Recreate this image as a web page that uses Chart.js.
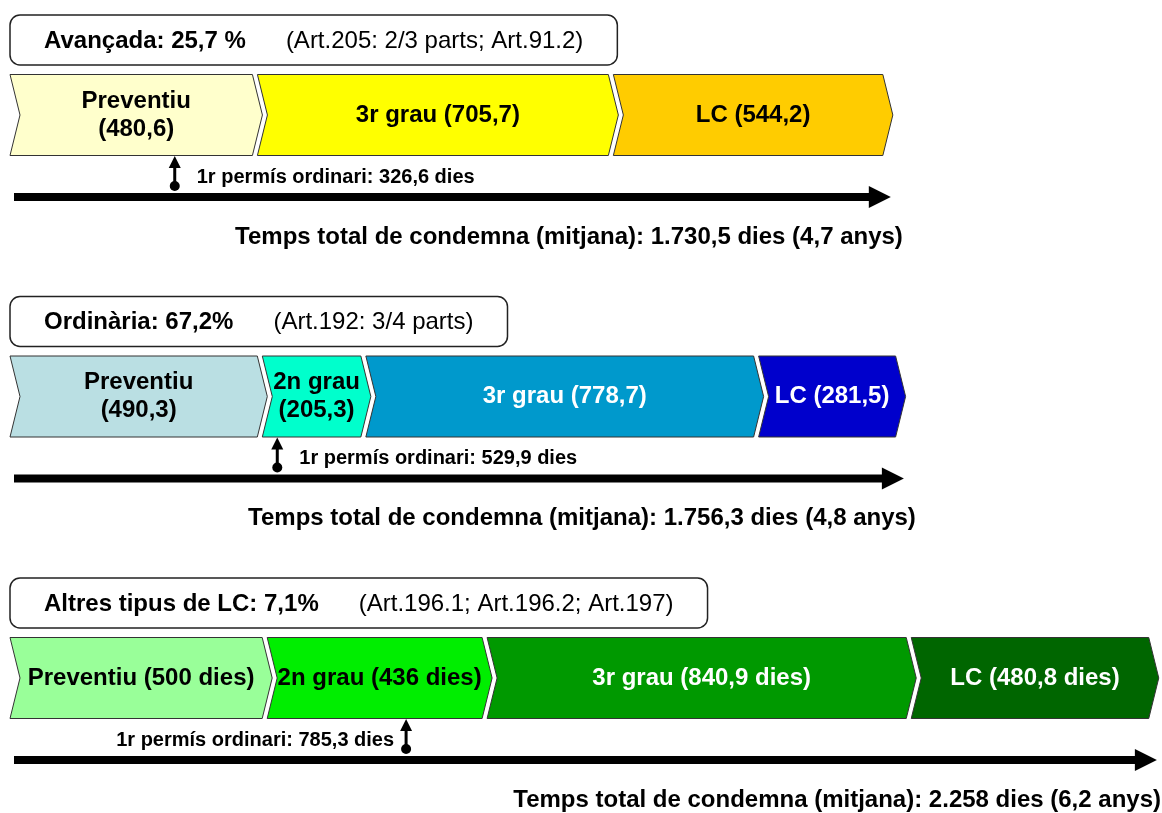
<!DOCTYPE html>
<html lang="ca">
<head>
    <meta charset="UTF-8">
    <title>Temps de condemna segons el tipus de llibertat condicional</title>
    <script src="https://cdn.jsdelivr.net/npm/chart.js"></script>
    <style>
        html, body { margin: 0; padding: 0; background: #fff; }
        #contenidor { width: 1162px; height: 813px; position: relative; }
    </style>
</head>
<body>
    <div id="contenidor"><canvas id="grafic"></canvas></div>

    <script>
        // Dades (dies de mitjana a cada etapa)
        const files = ['Avançada', 'Ordinària', 'Altres tipus de LC'];
        const percentatges = ['25,7 %', '67,2%', '7,1%'];
        const articles = ['(Art.205: 2/3 parts; Art.91.2)', '(Art.192: 3/4 parts)', '(Art.196.1; Art.196.2; Art.197)'];

        const diesPreventiu = [480.6, 490.3, 500];
        const diesSegonGrau = [null, 205.3, 436];
        const diesTercerGrau = [705.7, 778.7, 840.9];
        const diesLC = [544.2, 281.5, 480.8];

        const etiquetesPreventiu = ['Preventiu\n(480,6)', 'Preventiu\n(490,3)', 'Preventiu (500 dies)'];
        const etiquetesSegonGrau = ['', '2n grau\n(205,3)', '2n grau (436 dies)'];
        const etiquetesTercerGrau = ['3r grau (705,7)', '3r grau (778,7)', '3r grau (840,9 dies)'];
        const etiquetesLC = ['LC (544,2)', 'LC (281,5)', 'LC (480,8 dies)'];

        const diesPermis = [326.6, 529.9, 785.3];
        const textPermis = ['1r permís ordinari: 326,6 dies', '1r permís ordinari: 529,9 dies', '1r permís ordinari: 785,3 dies'];

        const diesTotal = [1730.5, 1756.3, 2258];
        const textTotal = [
            'Temps total de condemna (mitjana): 1.730,5 dies (4,7 anys)',
            'Temps total de condemna (mitjana): 1.756,3 dies (4,8 anys)',
            'Temps total de condemna (mitjana): 2.258 dies (6,2 anys)'
        ];

        // Colors de cada etapa per fila
        const colorsPreventiu = ['#FFFFCC', '#BADFE3', '#99FF99'];
        const colorsSegonGrau = ['#FFFFFF', '#00FFCC', '#00EE00'];
        const colorsTercerGrau = ['#FFFF00', '#0099CC', '#009900'];
        const colorsLC = ['#FFCC00', '#0000CC', '#006600'];
        const colorsTextFosc = ['#000', '#000', '#000'];
        const colorsTextClar = ['#000', '#fff', '#fff'];

        const FONT = '"Liberation Sans", Arial, Helvetica, sans-serif';
        const PUNTA = 10;      // profunditat de la punta del xebró
        const SEPARACIO = 5;   // espai entre xebrons

        function camiXebro(ctx, esquerra, dreta, dalt, baix) {
            const mig = (dalt + baix) / 2;
            ctx.beginPath();
            ctx.moveTo(esquerra, dalt);
            ctx.lineTo(dreta, dalt);
            ctx.lineTo(dreta + PUNTA, mig);
            ctx.lineTo(dreta, baix);
            ctx.lineTo(esquerra, baix);
            ctx.lineTo(esquerra + PUNTA, mig);
            ctx.closePath();
        }

        function rectArrodonit(ctx, x, y, w, h, r) {
            ctx.beginPath();
            ctx.moveTo(x + r, y);
            ctx.arcTo(x + w, y, x + w, y + h, r);
            ctx.arcTo(x + w, y + h, x, y + h, r);
            ctx.arcTo(x, y + h, x, y, r);
            ctx.arcTo(x, y, x + w, y, r);
            ctx.closePath();
        }

        // Dibuixa les barres com a xebrons en lloc de rectangles
        const pluginXebrons = {
            id: 'xebrons',
            beforeDatasetsDraw(chart) {
                const ctx = chart.ctx;
                const x0 = chart.scales.x.getPixelForValue(0);
                ctx.save();
                chart.data.datasets.forEach((ds, i) => {
                    const meta = chart.getDatasetMeta(i);
                    meta.data.forEach((el, j) => {
                        if (!ds.data[j]) return;
                        const p = el.getProps(['x', 'y', 'base', 'height'], true);
                        const inici = Math.min(p.base, p.x);
                        const fi = Math.max(p.base, p.x);
                        const esquerra = Math.abs(inici - x0) < 1 ? inici : inici + SEPARACIO;
                        const dalt = p.y - p.height / 2;
                        const baix = p.y + p.height / 2;
                        camiXebro(ctx, esquerra, fi, dalt, baix);
                        ctx.fillStyle = el.options.backgroundColor;
                        ctx.fill();
                        ctx.lineWidth = 1;
                        ctx.strokeStyle = '#333';
                        ctx.stroke();

                        const linies = ds.etiquetes[j].split('\n');
                        const cx = (esquerra + fi + PUNTA) / 2;
                        ctx.fillStyle = ds.colorsText[j];
                        ctx.font = 'bold 24px ' + FONT;
                        ctx.textAlign = 'center';
                        ctx.textBaseline = 'middle';
                        linies.forEach((t, k) => {
                            ctx.fillText(t, cx, p.y + (k - (linies.length - 1) / 2) * 28);
                        });
                    });
                });
                ctx.restore();
                return false;
            },
            afterDraw(chart) {
                const ctx = chart.ctx;
                const x = chart.scales.x;
                const y = chart.scales.y;
                const area = chart.chartArea;
                ctx.save();
                files.forEach((nom, i) => {
                    const cy = y.getPixelForValue(i);

                    // Caixa del títol
                    const titol = nom + ': ' + percentatges[i];
                    ctx.font = 'bold 24px ' + FONT;
                    const wTitol = ctx.measureText(titol).width;
                    ctx.font = '24px ' + FONT;
                    const wArt = ctx.measureText(articles[i]).width;
                    const cLeft = area.left;
                    const cTop = cy - 100;
                    const cW = 34 + wTitol + 40 + wArt + 34;
                    rectArrodonit(ctx, cLeft, cTop, cW, 50, 10);
                    ctx.fillStyle = '#fff';
                    ctx.fill();
                    ctx.lineWidth = 1.5;
                    ctx.strokeStyle = '#222';
                    ctx.stroke();
                    ctx.fillStyle = '#000';
                    ctx.textBaseline = 'middle';
                    ctx.textAlign = 'left';
                    ctx.font = 'bold 24px ' + FONT;
                    ctx.fillText(titol, cLeft + 34, cTop + 26);
                    ctx.font = '24px ' + FONT;
                    ctx.fillText(articles[i], cLeft + 34 + wTitol + 40, cTop + 26);

                    // Marca del 1r permís
                    const px = x.getPixelForValue(diesPermis[i]);
                    const baixBarra = cy + 41;
                    ctx.fillStyle = '#000';
                    ctx.strokeStyle = '#000';
                    ctx.beginPath();
                    ctx.moveTo(px, baixBarra);
                    ctx.lineTo(px - 6, baixBarra + 12);
                    ctx.lineTo(px + 6, baixBarra + 12);
                    ctx.closePath();
                    ctx.fill();
                    ctx.lineWidth = 3;
                    ctx.beginPath();
                    ctx.moveTo(px, baixBarra + 8);
                    ctx.lineTo(px, cy + 71);
                    ctx.stroke();
                    ctx.beginPath();
                    ctx.arc(px, cy + 71, 5, 0, Math.PI * 2);
                    ctx.fill();

                    ctx.font = 'bold 20px ' + FONT;
                    const wPermis = ctx.measureText(textPermis[i]).width;
                    if (px - wPermis - 12 > 0) {
                        ctx.textAlign = 'right';
                        ctx.fillText(textPermis[i], px - 12, cy + 62);
                    } else {
                        ctx.textAlign = 'left';
                        ctx.fillText(textPermis[i], px + 22, cy + 62);
                    }

                    // Fletxa del temps total
                    const ya = cy + 82;
                    const punta = Math.min(x.getPixelForValue(diesTotal[i]) + 8, chart.width - 2);
                    ctx.lineWidth = 8;
                    ctx.beginPath();
                    ctx.moveTo(x.getPixelForValue(0) + 4, ya);
                    ctx.lineTo(punta - 20, ya);
                    ctx.stroke();
                    ctx.beginPath();
                    ctx.moveTo(punta - 22, ya - 11);
                    ctx.lineTo(punta, ya);
                    ctx.lineTo(punta - 22, ya + 11);
                    ctx.closePath();
                    ctx.fill();

                    ctx.font = 'bold 24px ' + FONT;
                    ctx.textAlign = 'right';
                    ctx.fillText(textTotal[i], Math.min(punta + 12, chart.width - 1), cy + 122);
                });
                ctx.restore();
            }
        };

        new Chart(document.getElementById('grafic'), {
            type: 'bar',
            data: {
                labels: files,
                datasets: [
                    { label: 'Preventiu', data: diesPreventiu, backgroundColor: colorsPreventiu, etiquetes: etiquetesPreventiu, colorsText: colorsTextFosc },
                    { label: '2n grau', data: diesSegonGrau, backgroundColor: colorsSegonGrau, etiquetes: etiquetesSegonGrau, colorsText: colorsTextFosc },
                    { label: '3r grau', data: diesTercerGrau, backgroundColor: colorsTercerGrau, etiquetes: etiquetesTercerGrau, colorsText: colorsTextClar },
                    { label: 'LC', data: diesLC, backgroundColor: colorsLC, etiquetes: etiquetesLC, colorsText: colorsTextClar }
                ]
            },
            options: {
                indexAxis: 'y',
                responsive: true,
                maintainAspectRatio: false,
                animation: false,
                barThickness: 81,
                layout: { padding: { top: 115, bottom: 135, left: 10, right: 2 } },
                plugins: {
                    legend: { display: false },
                    tooltip: { enabled: false }
                },
                scales: {
                    x: { type: 'linear', stacked: true, min: 0, max: 2280, display: false },
                    y: { type: 'category', stacked: true, offset: false, display: false }
                }
            },
            plugins: [pluginXebrons]
        });
    </script>
</body>
</html>
